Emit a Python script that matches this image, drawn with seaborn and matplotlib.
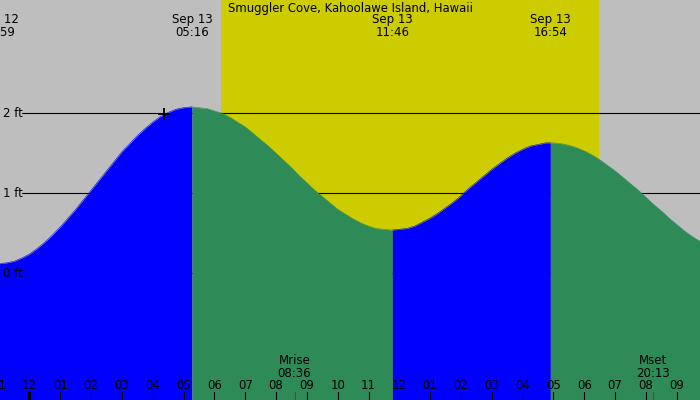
import matplotlib
matplotlib.use("Agg")
import matplotlib.pyplot as plt
import matplotlib.transforms as mtransforms
import pandas as pd
import seaborn as sns

title = "Smuggler Cove, Kahoolawe Island, Hawaii"

# hours after midnight Sep 13, tide height in ft
extreme_hours = [-1.02, 5.27, 11.77, 16.90]
extreme_heights = [0.12, 2.08, 0.54, 1.63]
extreme_dates = ["Sep 12", "Sep 13", "Sep 13", "Sep 13"]
extreme_times = ["22:59", "05:16", "11:46", "16:54"]

reading_hours = [
    -1.0, -0.75, -0.5, -0.25, 0.0, 0.25, 0.5, 0.75, 1.0, 1.25, 1.5, 1.75,
    2.0, 2.25, 2.5, 2.75, 3.0, 3.25, 3.5, 3.75, 4.0, 4.25, 4.5, 4.75, 5.0,
    5.5, 5.75, 6.0, 6.25, 6.5, 6.75, 7.0, 7.25, 7.5, 7.75, 8.0, 8.25,
    8.5, 8.75, 9.0, 9.25, 9.5, 9.75, 10.0, 10.25, 10.5, 10.75, 11.0, 11.25, 11.5,
    12.0, 12.25, 12.5, 12.75, 13.0, 13.25, 13.5, 13.75, 14.0, 14.25, 14.5, 14.75,
    15.0, 15.25, 15.5, 15.75, 16.0, 16.25, 16.5, 16.75,
    17.0, 17.25, 17.5, 17.75, 18.0, 18.25, 18.5, 18.75, 19.0, 19.25, 19.5, 19.75,
    20.0, 20.25, 20.5, 20.75, 21.0, 21.25, 21.5, 21.8,
]
reading_heights = [
    0.12, 0.13, 0.15, 0.19, 0.24, 0.31, 0.39, 0.48, 0.58, 0.69, 0.80, 0.92,
    1.04, 1.16, 1.28, 1.40, 1.52, 1.62, 1.72, 1.81, 1.89, 1.96, 2.01, 2.05, 2.07,
    2.07, 2.06, 2.03, 2.00, 1.95, 1.89, 1.83, 1.75, 1.67, 1.59, 1.50, 1.41,
    1.32, 1.22, 1.13, 1.04, 0.96, 0.88, 0.80, 0.74, 0.68, 0.63, 0.59, 0.56, 0.55,
    0.55, 0.56, 0.59, 0.64, 0.69, 0.75, 0.82, 0.89, 0.97, 1.06, 1.14, 1.22,
    1.30, 1.37, 1.44, 1.50, 1.55, 1.59, 1.61, 1.63,
    1.63, 1.62, 1.60, 1.57, 1.53, 1.48, 1.42, 1.35, 1.28, 1.20, 1.12, 1.04,
    0.95, 0.86, 0.78, 0.69, 0.61, 0.53, 0.46, 0.39,
]

sunrise, sunset = 6.21, 18.48
moon_hours = [8.60, 20.22]
moon_names = ["Mrise", "Mset"]
moon_times = ["08:36", "20:13"]

height_levels = [0, 1, 2]
hour_ticks = list(range(-1, 22))
now_hour, now_height = 4.37, 1.99

# view window
x0, x1 = -0.957, 21.755
y0, y1 = -1.584, 3.416

GRAY = "#bebebe"
DAY = "#cccc00"
RISE = "#0000ff"
FALL = "#2e8b57"

sns.set_style("white")
plt.rcParams["font.family"] = ["DejaVu Sans"]
plt.rcParams["text.color"] = "black"

tide = pd.DataFrame({"hour": reading_hours + extreme_hours,
                     "height": reading_heights + extreme_heights})
tide = tide.drop_duplicates("hour").sort_values("hour").reset_index(drop=True)

fig = plt.figure(figsize=(7, 4), dpi=100)
ax = fig.add_axes([0, 0, 1, 1])
ax.set_xlim(x0, x1)
ax.set_ylim(y0, y1)
ax.axis("off")
ax.add_patch(plt.Rectangle((0, 0), 1, 1, transform=ax.transAxes, color=GRAY, zorder=0))

ax.axvspan(sunrise, sunset, color=DAY, lw=0, zorder=1)

blend = mtransforms.blended_transform_factory(ax.transData, ax.transAxes)
blend_y = mtransforms.blended_transform_factory(ax.transAxes, ax.transData)

# level lines and labels
for lvl in height_levels:
    ax.plot([22 / 700, 1], [lvl, lvl], transform=blend_y, color="black", lw=0.8, zorder=2)
    ax.text(3 / 700, lvl, f"{lvl} ft", transform=blend_y, ha="left", va="center",
            fontsize=8.5, zorder=6)

# tide fill, split at highs and lows
bounds = extreme_hours + [tide["hour"].max()]
for a, b in zip(bounds[:-1], bounds[1:]):
    seg = tide[(tide["hour"] >= a) & (tide["hour"] <= b)]
    color = RISE if seg["height"].iloc[-1] > seg["height"].iloc[0] else FALL
    ax.fill_between(seg["hour"], y0, seg["height"], color=color, lw=0, zorder=3)
    sns.lineplot(data=seg, x="hour", y="height", color=color, lw=0.4, ax=ax, zorder=3)

ax.plot(now_hour, now_height, marker="+", ms=9, mew=1.3, color="black", zorder=5)

# hour ticks
for h in hour_ticks:
    lw = 2.2 if h == 0 else 0.8
    ax.plot([h, h], [0, 8 / 400], transform=blend, color="black", lw=lw, zorder=5)
    ax.text(h, 11 / 400, f"{(h % 12) or 12:02d}", transform=blend, ha="center",
            va="baseline", fontsize=8.5, zorder=6)

for h, name, t in zip(moon_hours, moon_names, moon_times):
    ax.plot([h, h], [0, 8 / 400], transform=blend, color="red", lw=0.8, zorder=5)
    ax.text(h, 23 / 400, f"{name}\n{t}", transform=blend, ha="center", va="baseline",
            fontsize=8.5, linespacing=1.0, zorder=6)

# high / low labels
for h, d, t in zip(extreme_hours, extreme_dates, extreme_times):
    ax.text(h, 1 - 36 / 400, f"{d}\n{t}", transform=blend, ha="center", va="baseline",
            fontsize=8.5, linespacing=1.0, zorder=6)

ax.text(0.5, 1 - 12 / 400, title, transform=ax.transAxes, ha="center", va="baseline",
        fontsize=8.4, zorder=6)

fig.savefig("out.png", dpi=100)
